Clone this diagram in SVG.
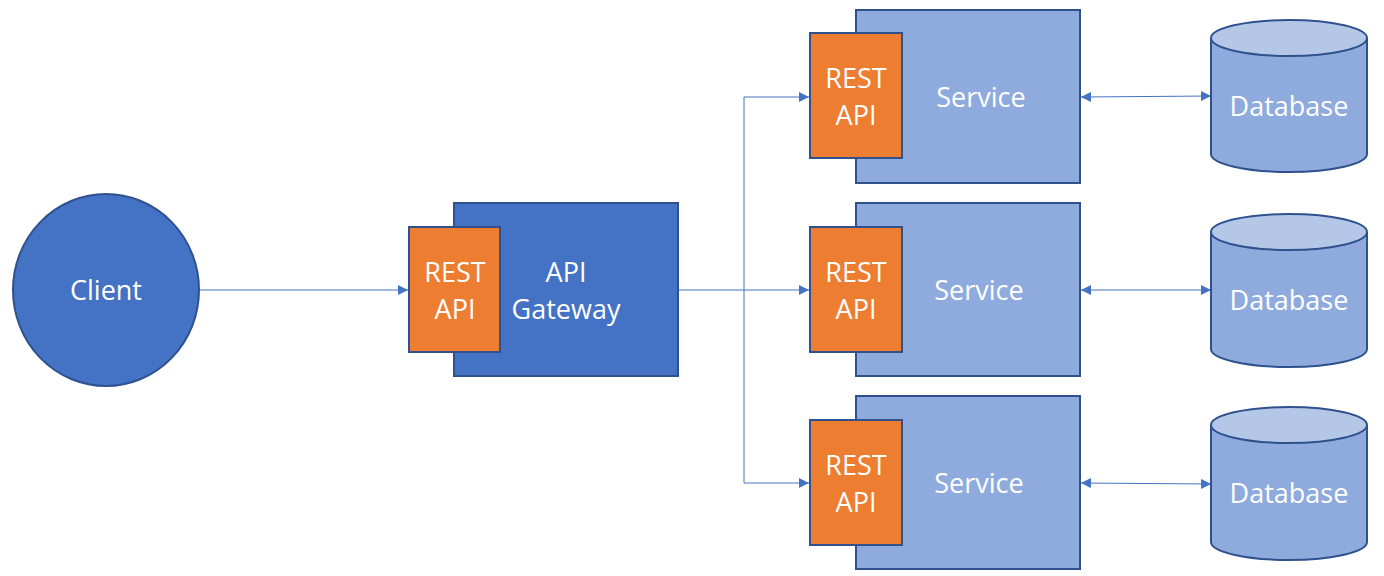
<svg xmlns="http://www.w3.org/2000/svg" width="1384" height="576" viewBox="0 0 1384 576">
<defs>
<style>
.dark{fill:#4472C4;stroke:#2F528F;stroke-width:2}
.light{fill:#8FAADC;stroke:#2F528F;stroke-width:2}
.rest{fill:#ED7D31;stroke:#2F528F;stroke-width:2}
.dbtop{fill:#B4C7E7;stroke:#2F528F;stroke-width:2}
.t{font-family:"Open Sans","Noto Sans","Liberation Sans",sans-serif;font-size:27px;fill:#FFFFFF;text-anchor:middle}
.c{fill:none;stroke:#4472C4;stroke-width:1}
</style>
<marker id="ah" viewBox="0 0 10 10" refX="10" refY="5" markerWidth="10" markerHeight="10" markerUnits="userSpaceOnUse" orient="auto-start-reverse">
<path d="M0,0 L10,5 L0,10 z" fill="#4472C4"/>
</marker>
</defs>
<rect width="1384" height="576" fill="#FFFFFF"/>
<g id="connectors">
<line class="c" x1="200" y1="290" x2="408" y2="290" marker-end="url(#ah)"/>
<polyline class="c" points="679,290 809,290" marker-end="url(#ah)"/>
<polyline class="c" points="744,290 744,97 809,97" marker-end="url(#ah)"/>
<polyline class="c" points="744,290 744,483 809,483" marker-end="url(#ah)"/>
<line class="c" x1="1081" y1="97" x2="1211" y2="96" marker-start="url(#ah)" marker-end="url(#ah)"/>
<line class="c" x1="1081" y1="290" x2="1211" y2="290" marker-start="url(#ah)" marker-end="url(#ah)"/>
<line class="c" x1="1081" y1="483" x2="1211" y2="484" marker-start="url(#ah)" marker-end="url(#ah)"/>
</g>
<g id="client">
<ellipse class="dark" cx="106" cy="290" rx="93" ry="96"/>
<text class="t" x="106" y="300">Client</text>
</g>
<g id="gateway">
<rect class="dark" x="454" y="203" width="224" height="173"/>
<rect class="rest" x="409" y="227" width="91" height="125"/>
<text class="t" x="455" y="282">REST</text>
<text class="t" x="455" y="319">API</text>
<text class="t" x="566" y="282">API</text>
<text class="t" x="566" y="319">Gateway</text>
</g>
<g id="service1">
<rect class="light" x="856" y="10" width="224" height="173"/>
<rect class="rest" x="810" y="33" width="92" height="125"/>
<text class="t" x="856" y="88">REST</text>
<text class="t" x="856" y="125">API</text>
<text class="t" x="981" y="107">Service</text>
</g>
<g id="service2">
<rect class="light" x="856" y="203" width="224" height="173"/>
<rect class="rest" x="810" y="227" width="92" height="125"/>
<text class="t" x="856" y="282">REST</text>
<text class="t" x="856" y="319">API</text>
<text class="t" x="979" y="300">Service</text>
</g>
<g id="service3">
<rect class="light" x="856" y="396" width="224" height="173"/>
<rect class="rest" x="810" y="420" width="92" height="125"/>
<text class="t" x="856" y="475">REST</text>
<text class="t" x="856" y="512">API</text>
<text class="t" x="979" y="493">Service</text>
</g>
<g id="database1">
<path class="light" d="M1211,38 L1211,154 A78,18 0 0 0 1367,154 L1367,38"/>
<ellipse class="dbtop" cx="1289" cy="38" rx="78" ry="18"/>
<text class="t" x="1289" y="116">Database</text>
</g>
<g id="database2">
<path class="light" d="M1211,232 L1211,349 A78,18 0 0 0 1367,349 L1367,232"/>
<ellipse class="dbtop" cx="1289" cy="232" rx="78" ry="18"/>
<text class="t" x="1289" y="310">Database</text>
</g>
<g id="database3">
<path class="light" d="M1211,425 L1211,542 A78,18 0 0 0 1367,542 L1367,425"/>
<ellipse class="dbtop" cx="1289" cy="425" rx="78" ry="18"/>
<text class="t" x="1289" y="503">Database</text>
</g>
</svg>
